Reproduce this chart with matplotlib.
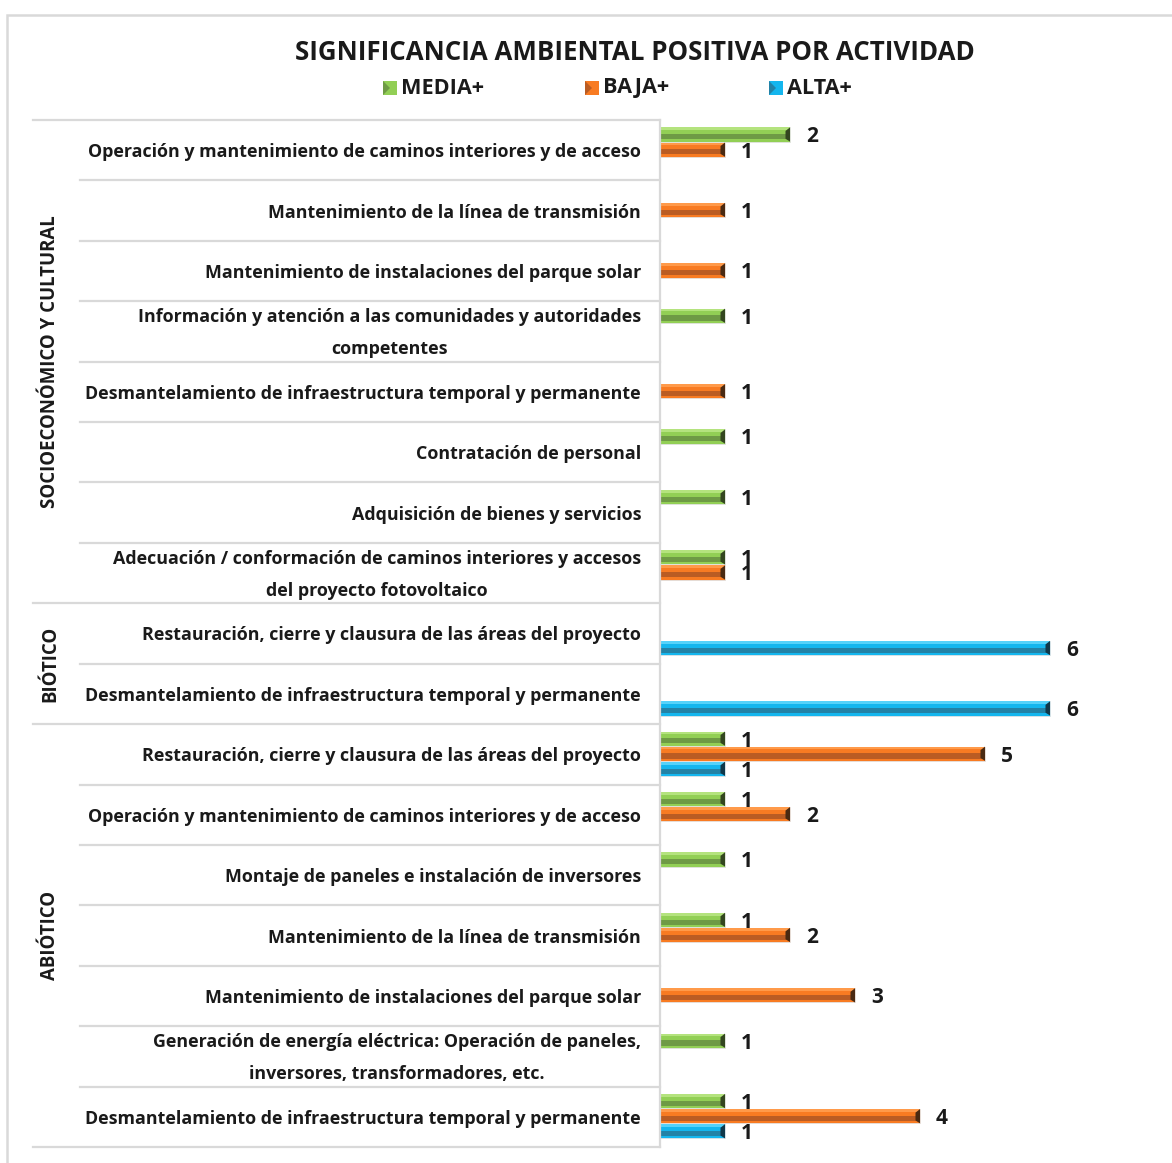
import matplotlib
matplotlib.use("Agg")
import matplotlib.pyplot as plt
from matplotlib.patches import Rectangle, Polygon
from matplotlib.lines import Line2D

plt.rcParams['font.family'] = ['Open Sans', 'DejaVu Sans']

# ---- data -------------------------------------------------------------
groups = ["SOCIOECONÓMICO Y CULTURAL", "BIÓTICO", "ABIÓTICO"]
group_sizes = [8, 2, 7]

activities = [
    "Operación y mantenimiento de caminos interiores y de acceso",
    "Mantenimiento de la línea de transmisión",
    "Mantenimiento de instalaciones del parque solar",
    "Información y atención a las comunidades y autoridades\ncompetentes",
    "Desmantelamiento de infraestructura temporal y permanente",
    "Contratación de personal",
    "Adquisición de bienes y servicios",
    "Adecuación / conformación de caminos interiores y accesos\ndel proyecto fotovoltaico",
    "Restauración, cierre y clausura de las áreas del proyecto",
    "Desmantelamiento de infraestructura temporal y permanente",
    "Restauración, cierre y clausura de las áreas del proyecto",
    "Operación y mantenimiento de caminos interiores y de acceso",
    "Montaje de paneles e instalación de inversores",
    "Mantenimiento de la línea de transmisión",
    "Mantenimiento de instalaciones del parque solar",
    "Generación de energía eléctrica: Operación de paneles,\ninversores, transformadores, etc.",
    "Desmantelamiento de infraestructura temporal y permanente",
]

series_names = ["MEDIA+", "BAJA+", "ALTA+"]
media = [2, 0, 0, 1, 0, 1, 1, 1, 0, 0, 1, 1, 1, 1, 0, 1, 1]
baja  = [1, 1, 1, 0, 1, 0, 0, 1, 0, 0, 5, 2, 0, 2, 3, 0, 4]
alta  = [0, 0, 0, 0, 0, 0, 0, 0, 6, 6, 1, 0, 0, 0, 0, 0, 1]

# ---- styling ----------------------------------------------------------
palette = {
    "MEDIA+": dict(base="#92CF55", light="#B4E37E", dark="#6E9A45", cap="#33461F"),
    "BAJA+":  dict(base="#F87B22", light="#FF9A4A", dark="#BA5C23", cap="#4A2A12"),
    "ALTA+":  dict(base="#14B6EE", light="#55D2FA", dark="#2382A6", cap="#10384A"),
}
offsets = [-0.26, -0.01, 0.24]
bar_h = 0.235
grid_c = "#D9D9D9"
txt_c = "#1A1A1A"

W, H = 1172, 1163
fig = plt.figure(figsize=(W / 100, H / 100), dpi=100)

ax_left, ax_right = 660 / W, 1166 / W
ax_top, ax_bot = 1 - 120 / H, 1 - 1147 / H
ax = fig.add_axes([ax_left, ax_bot, ax_right - ax_left, ax_top - ax_bot])
n = len(activities)
ax.set_ylim(n, 0)
ax.set_xlim(0, (1166 - 660) / 65.0)
ax.axis("off")

px_x = 65.0          # pixels per unit on x
cap_w = 4.5 / px_x


def bevel_bar(ax, v, yc, colors):
    top = yc - bar_h / 2
    ax.add_patch(Rectangle((0, top), v, bar_h, facecolor=colors["base"],
                           edgecolor="#E3E3E3", linewidth=0.6, zorder=3))
    ax.add_patch(Rectangle((0, top), v, bar_h * 0.2, facecolor=colors["light"],
                           edgecolor="none", zorder=4))
    ax.add_patch(Rectangle((0, top + bar_h * 0.48), v, bar_h * 0.36,
                           facecolor=colors["dark"], edgecolor="none", zorder=4))
    ax.add_patch(Polygon([(v - cap_w, top + bar_h * 0.25), (v, top),
                          (v, top + bar_h), (v - cap_w, top + bar_h * 0.8)],
                         closed=True, facecolor=colors["cap"], edgecolor="none",
                         zorder=5))


for name, vals, off in zip(series_names, [media, baja, alta], offsets):
    for i, v in enumerate(vals):
        if v <= 0:
            continue
        yc = i + 0.5 + off
        bevel_bar(ax, v, yc, palette[name])
        ax.text(v + 22 / px_x, yc + 0.04, f"{v}", ha="center", va="center",
                fontsize=15, fontweight="bold", color=txt_c, zorder=6)


def fig_y(row):
    """Figure fraction y for a row boundary (0 = top of plot)."""
    return ax_top - (ax_top - ax_bot) * row / n


# row separators, axis line and group dividers
group_edges = [0]
for s in group_sizes:
    group_edges.append(group_edges[-1] + s)
for r in range(n + 1):
    x0 = 33 / W if r in group_edges else 80 / W
    fig.add_artist(Line2D([x0, ax_left], [fig_y(r), fig_y(r)], color=grid_c,
                          linewidth=1.6))
fig.add_artist(Line2D([ax_left, ax_left], [fig_y(0), fig_y(n)], color=grid_c,
                      linewidth=1.6))

# activity labels
for i, lab in enumerate(activities):
    fig.text(641 / W, fig_y(i + 0.5) - 2 / H, lab, ha="right", va="center",
             multialignment="center", fontsize=12.9, fontweight="bold",
             linespacing=2.0, color=txt_c)

# group labels
for g, a, b in zip(groups, group_edges[:-1], group_edges[1:]):
    fig.text(50 / W, fig_y((a + b) / 2), g, rotation=90, ha="center",
             va="center", fontsize=13.4, fontweight="bold", color=txt_c)

# title
fig.text(635 / W, 1 - 52 / H, "SIGNIFICANCIA AMBIENTAL POSITIVA POR ACTIVIDAD",
         ha="center", va="center", fontsize=18.6, fontweight="bold",
         color=txt_c)

# legend
leg_x = [383, 585, 769]
for name, lx in zip(series_names, leg_x):
    c = palette[name]
    sq = 14
    x0, y0 = lx / W, 1 - (88 + sq / 2) / H
    fig.add_artist(Rectangle((x0, y0), sq / W, sq / H, facecolor=c["base"],
                             edgecolor="none", transform=fig.transFigure))
    fig.add_artist(Polygon([(x0, y0), (x0 + sq / W * 0.5, y0 + sq / H * 0.5),
                            (x0, y0 + sq / H)], closed=True,
                           facecolor=c["dark"], edgecolor="none",
                           transform=fig.transFigure))
    fig.text((lx + sq + 4) / W, 1 - 88 / H, name, ha="left", va="center",
             fontsize=15.6, fontweight="bold", color=txt_c)

# outer chart frame
fig.add_artist(Rectangle((7 / W, -0.05), 1.2, (1 - 15 / H) + 0.05,
                         facecolor="none", edgecolor=grid_c, linewidth=1.8,
                         transform=fig.transFigure))

fig.savefig("out.png", dpi=100, facecolor="white")
